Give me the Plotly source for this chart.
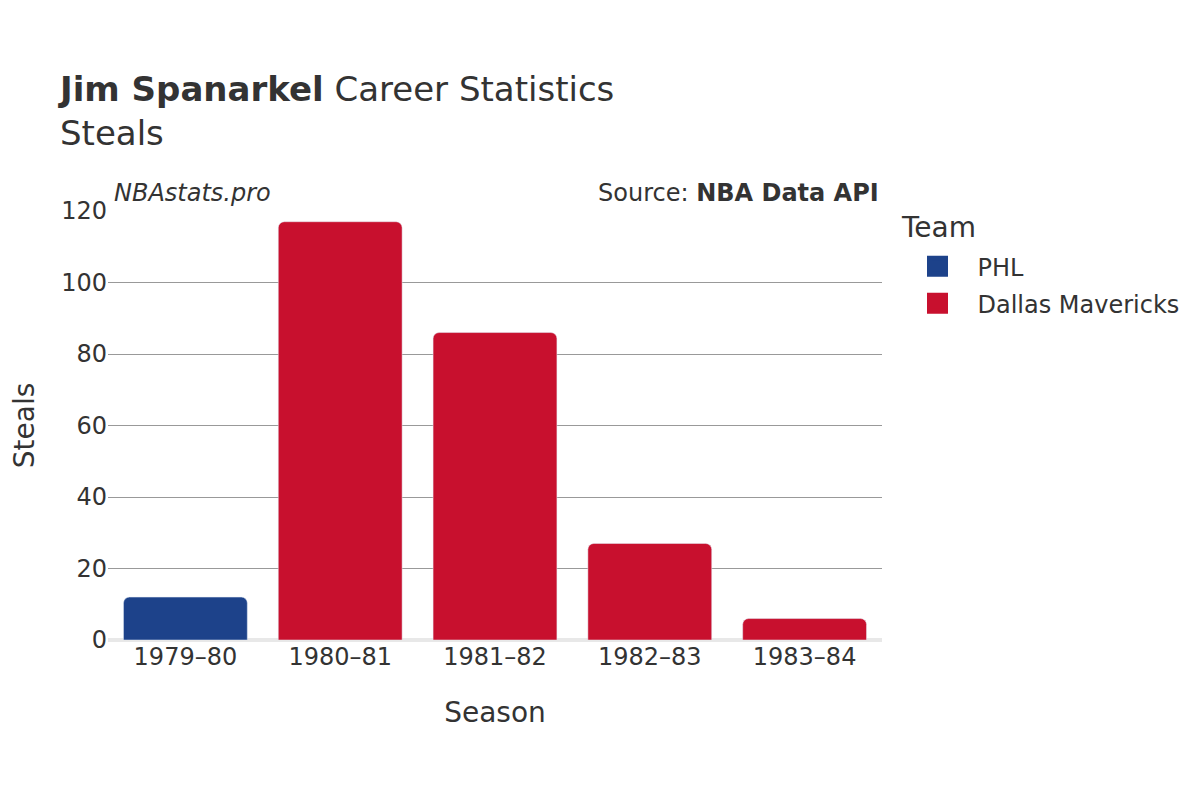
import plotly.graph_objects as go

seasons = ["1979–80", "1980–81", "1981–82", "1982–83", "1983–84"]
phl_seasons = ["1979–80"]
phl_steals = [12]
dal_seasons = ["1980–81", "1981–82", "1982–83", "1983–84"]
dal_steals = [117, 86, 27, 6]
y_ticks = [0, 20, 40, 60, 80, 100, 120]
teams = ["PHL", "Dallas Mavericks"]
team_colors = ["#1d428a", "#c8102e"]

FONT = "DejaVu Sans"
TXT = "#333333"

fig = go.Figure()
fig.add_trace(go.Bar(x=phl_seasons, y=phl_steals, name=teams[0], showlegend=False,
                     legendgroup=teams[0],
                     marker=dict(color=team_colors[0], cornerradius=6)))
fig.add_trace(go.Bar(x=dal_seasons, y=dal_steals, name=teams[1], showlegend=False,
                     legendgroup=teams[1],
                     marker=dict(color=team_colors[1], cornerradius=6)))
# legend entries with larger swatches
for name, col in zip(teams, team_colors):
    fig.add_trace(go.Scatter(x=[None], y=[None], mode="markers", name=name,
                             legendgroup=name,
                             marker=dict(symbol="square", size=16, color=col,
                                         line=dict(color=col, width=5))))

fig.update_layout(
    width=1200, height=800,
    barmode="relative", bargap=0.2,
    plot_bgcolor="white", paper_bgcolor="white",
    font=dict(family=FONT, color=TXT, size=24),
    margin=dict(l=100, r=326, t=203, b=168),
    title=dict(text="<b>Jim Spanarkel</b> Career Statistics<br>Steals",
               x=52/1200, xanchor="left", y=1-93/800, yanchor="middle",
               font=dict(size=34, color=TXT, family=FONT)),
    xaxis=dict(categoryorder="array", categoryarray=seasons, automargin=False,
               title=dict(text="Season", font=dict(size=28), standoff=32),
               tickfont=dict(size=24), showgrid=False),
    yaxis=dict(range=[0, 120], tickvals=y_ticks, automargin=False,
               title=dict(text="Steals", font=dict(size=28), standoff=34),
               tickfont=dict(size=24), gridcolor="#999999",
               zeroline=True, zerolinecolor="#e8e8e8", zerolinewidth=4),
    legend=dict(x=1.02, y=0.923, yanchor="top", font=dict(size=24),
                itemwidth=70, tracegroupgap=3),
    annotations=[
        dict(text="<i>NBAstats.pro</i>", xref="paper", yref="paper",
             x=0.005, y=1.0, xanchor="left", yanchor="bottom", yshift=2,
             showarrow=False, font=dict(size=24, color=TXT)),
        dict(text="Source: <b>NBA Data API</b>", xref="paper", yref="paper",
             x=0.999, y=1.0, xanchor="right", yanchor="bottom", yshift=2,
             showarrow=False, font=dict(size=24, color=TXT)),
        dict(text="Team", xref="paper", yref="paper",
             x=1.0219, y=0.9627, xanchor="left", yanchor="middle",
             showarrow=False, font=dict(size=28, color=TXT)),
    ],
)

fig.write_html("out.html")
